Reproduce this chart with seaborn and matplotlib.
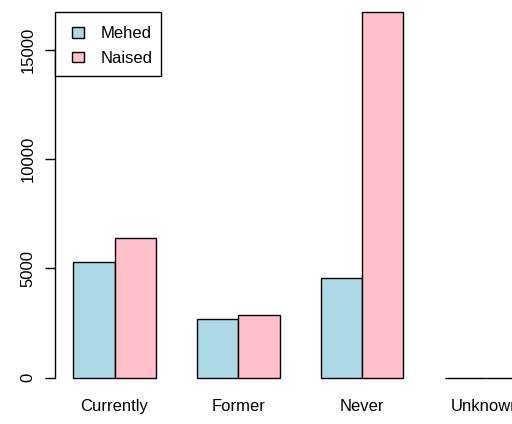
import matplotlib
matplotlib.use("Agg")
import matplotlib.pyplot as plt
from matplotlib.patches import Patch, Rectangle
from matplotlib.legend_handler import HandlerPatch
import seaborn as sns
import pandas as pd

# Smoking status counts by sex
categories = ["Currently", "Former", "Never", "Unknown"]
groups = ["Mehed", "Naised"]
mehed = [5280, 2690, 4580, 4]
naised = [6380, 2880, 16740, 6]
colors = ["#ADD8E6", "#FFC0CB"]

df = pd.DataFrame({
    "status": categories * 2,
    "sex": [groups[0]] * len(categories) + [groups[1]] * len(categories),
    "count": mehed + naised,
})

sns.set_style("white")
plt.rcParams["font.family"] = ["Liberation Sans", "DejaVu Sans"]
for key in ["text.color", "axes.labelcolor", "xtick.color", "ytick.color"]:
    plt.rcParams[key] = "black"

FS = 12
W, H = 512, 424
fig = plt.figure(figsize=(W / 100, H / 100), dpi=100)
left_px, top_px, bottom_px = 55, 11, 392
ax = fig.add_axes([left_px / W, (H - bottom_px) / H, 1 - left_px / W, (bottom_px - top_px) / H])

sns.barplot(data=df, x="status", y="count", hue="sex", order=categories,
            hue_order=groups, palette=colors, saturation=1, width=2 / 3,
            gap=0, edgecolor="black", linewidth=1, errorbar=None, ax=ax)

# scales
px_per_unit = 123.75
center0 = 114.55
ax.set_xlim((left_px - center0) / px_per_unit, (W - center0) / px_per_unit)
y_scale = 0.021847
zero_px = 377.7
ax.set_ylim(-(bottom_px - zero_px) / y_scale, (zero_px - top_px) / y_scale)

for s in ["top", "right", "bottom"]:
    ax.spines[s].set_visible(False)
ax.spines["left"].set_bounds(0, 15000)
ax.spines["left"].set_color("black")
ax.spines["left"].set_linewidth(1)

ax.set_yticks([0, 5000, 10000, 15000])
ax.set_yticklabels(["0", "5000", "10000", "15000"], rotation=90, va="center",
                   fontsize=FS)
ax.tick_params(axis="y", left=True, length=7, width=1, color="black", pad=7)
ax.tick_params(axis="x", bottom=False, length=0, pad=5, labelsize=FS)
ax.set_xlabel("")
ax.set_ylabel("")
ax.grid(False)


# legend key: a small box, vertically centred in the handle area
def key_box(legend, orig_handle, xdescent, ydescent, width, height, fontsize):
    w = 12.6 * 0.72
    h = 10.4 * 0.72
    return Rectangle((-xdescent + width - w, -ydescent + (height - h) / 2), w, h)


# legend box (white, black border) in figure pixels
box_l, box_t, box_r, box_b = 55, 12.3, 161, 75.7
frame = Rectangle((box_l / W, 1 - box_b / H), (box_r - box_l) / W, (box_b - box_t) / H,
                  transform=fig.transFigure, facecolor="white", edgecolor="black",
                  linewidth=1, clip_on=False, zorder=4)
ax.add_artist(frame)

handles = [Patch(facecolor=c, edgecolor="black", linewidth=1) for c in colors]
leg = ax.legend(handles, groups, loc="upper left",
                bbox_to_anchor=(71.7 / W, 1 - 26.5 / H),
                bbox_transform=fig.transFigure,
                borderaxespad=0, fontsize=FS, frameon=False,
                handlelength=0.76, handleheight=0.7, handletextpad=0.98,
                borderpad=0, labelspacing=0.56,
                handler_map={Patch: HandlerPatch(patch_func=key_box)})
leg.set_zorder(5)

fig.savefig("out.png", dpi=100)
